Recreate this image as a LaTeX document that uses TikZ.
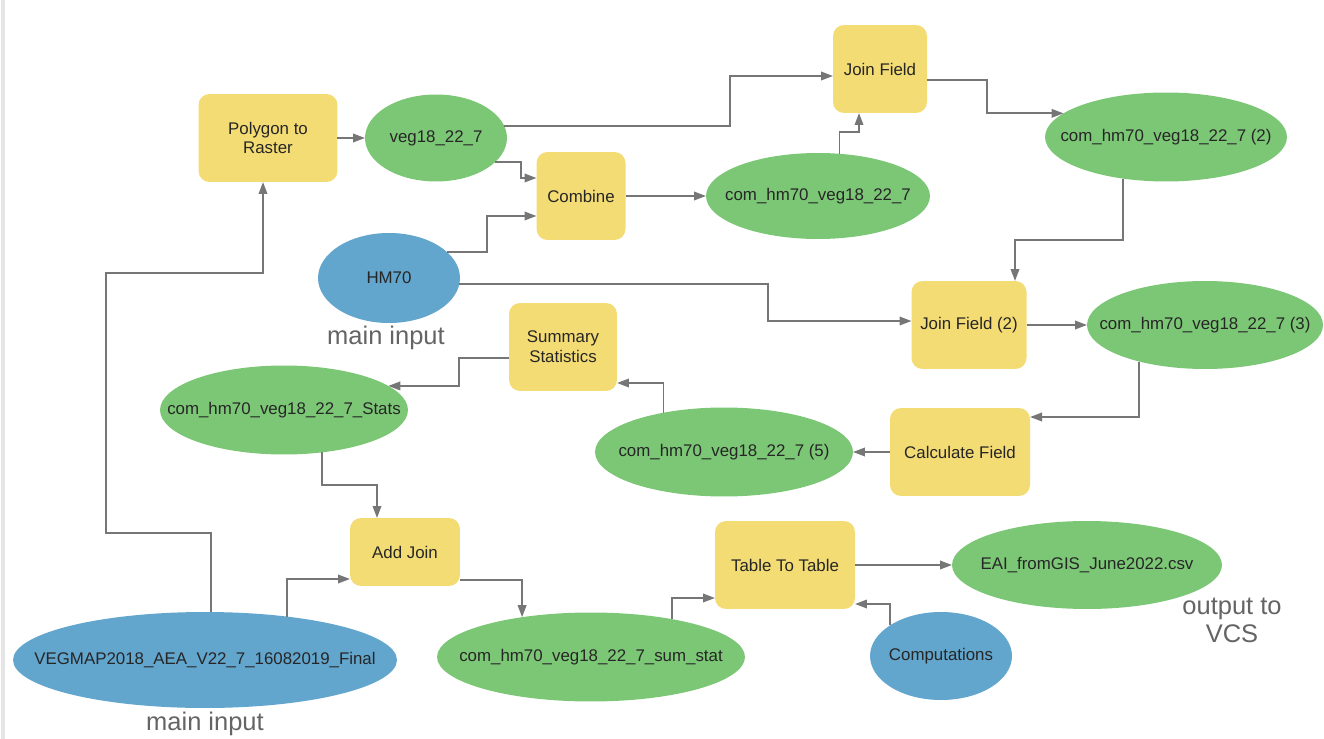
\documentclass[tikz,border=0pt]{standalone}
\usepackage{fontspec}
\setmainfont{Liberation Sans}
\usetikzlibrary{shapes.geometric,arrows.meta,calc}
\definecolor{toolyellow}{RGB}{244,220,116}
\definecolor{datagreen}{RGB}{124,199,118}
\definecolor{inputblue}{RGB}{98,165,205}
\definecolor{linkgray}{RGB}{118,118,118}
\definecolor{notegray}{RGB}{100,100,100}
\newcommand{\fld}[1]{\makebox[0pt]{#1}}

\begin{document}
\begin{tikzpicture}[x=0.02cm, y=-0.02cm,
  toolbox/.style={rectangle, rounded corners=0.22cm, fill=toolyellow, text=black!85, align=center, font=\fontsize{9.6}{11.3}\selectfont, minimum height=1.76cm, outer sep=0pt},
  dataell/.style={ellipse, fill=datagreen, inner sep=0pt, outer sep=0pt, text=black!85, font=\fontsize{9.6}{11.3}\selectfont, minimum height=1.78cm},
  srcell/.style={dataell, fill=inputblue},
  flow/.style={draw=linkgray, line width=1.1pt, -{Triangle[length=0.24cm,width=0.17cm]}},
  notelbl/.style={text=notegray, font=\fontsize{14.5}{16}\selectfont, inner sep=0pt, align=center}]
\useasboundingbox (0,0) rectangle (1324,739);
\fill[black!10] (1,0) rectangle (5,739);

\node[toolbox, minimum width=2.78cm] (poly) at (268,138) {Polygon to\\Raster};
\node[toolbox, minimum width=1.78cm] (comb) at (581,196) {Combine};
\node[toolbox, minimum width=1.88cm] (jf) at (880,69) {Join Field};
\node[toolbox, minimum width=2.3cm] (jf2) at (969,325) {Join Field (2)};
\node[toolbox, minimum width=2.16cm] (sumst) at (563,347) {Summary\\Statistics};
\node[toolbox, minimum width=2.8cm] (calcf) at (960,452) {Calculate Field};
\node[toolbox, minimum width=2.2cm, minimum height=1.36cm] (addj) at (405,552) {Add Join};
\node[toolbox, minimum width=2.8cm] (ttt) at (785,565) {Table To Table};

\node[dataell, minimum width=2.84cm, minimum height=1.74cm] (veg18) at (436,138) {\fld{veg18\_22\_7}};
\node[dataell, minimum width=4.48cm, minimum height=1.72cm] (chv) at (818,196) {\fld{com\_hm70\_veg18\_22\_7}};
\node[dataell, minimum width=4.84cm] (chv2) at (1166,137) {\fld{com\_hm70\_veg18\_22\_7 (2)}};
\node[dataell, minimum width=4.72cm, minimum height=1.76cm] (chv3) at (1205,325) {\fld{com\_hm70\_veg18\_22\_7 (3)}};
\node[dataell, minimum width=4.96cm] (stats) at (284,410) {\fld{com\_hm70\_veg18\_22\_7\_Stats}};
\node[dataell, minimum width=5.16cm] (chv5) at (724,452) {\fld{com\_hm70\_veg18\_22\_7 (5)}};
\node[dataell, minimum width=6.16cm] (sums) at (591,657) {\fld{com\_hm70\_veg18\_22\_7\_sum\_stat}};
\node[dataell, minimum width=5.4cm, minimum height=1.76cm] (eai) at (1087,565) {\fld{EAI\_fromGIS\_June2022.csv}};

\node[srcell, minimum width=2.84cm, minimum height=1.8cm] (hm70) at (389,278) {\fld{HM70}};
\node[srcell, minimum width=7.68cm, minimum height=1.92cm] (vegmap) at (205,660) {\fld{VEGMAP2018\_AEA\_V22\_7\_16082019\_Final}};
\node[srcell, minimum width=2.84cm, minimum height=1.76cm] (comp) at (941,656) {\fld{Computations}};

\node[notelbl, anchor=base] (lblhm) at (386,345) {main input};
\node[notelbl, anchor=base] (lblveg) at (205,730) {main input};
\node[notelbl] (lblout) at (1232,620) {output to\\VCS};

\draw[flow] (vegmap.83) -- ++(0,-79) -- ++(-105,0) -- ++(0,-260) -| ($(poly.south)+(-5,0)$);
\draw[flow] (vegmap.28) |- ($(addj.west)+(0,27)$);
\draw[flow] (poly) -- (veg18);
\draw[flow] (veg18.10) -- ++(226,0) |- ($(jf.west)+(0,7)$);
\draw[flow] (veg18.-22) -- ++(26,0) |- ($(comb.west)+(0,-18)$);
\draw[flow] (hm70.24) -- ++(40,0) |- ($(comb.west)+(0,20)$);
\draw[flow] (comb) -- (chv);
\draw[flow] (chv.63) -- ++(0,-22) -| ($(jf.south)+(-21,0)$);
\draw[flow] ($(jf.east)+(0,11)$) -- ++(60,0) |- (chv2.167);
\draw[flow] (chv2.-136) -- ++(0,61) -| ($(jf2.north)+(46,0)$);
\draw[flow] (hm70.-5) -- ++(309,0) |- ($(jf2.west)+(0,-4)$);
\draw[flow] (jf2) -- (chv3);
\draw[flow] (chv3.-151) |- ($(calcf.east)+(0,-35)$);
\draw[flow] (calcf) -- (chv5);
\draw[flow] (chv5.147) |- ($(sumst.east)+(0,36)$);
\draw[flow] ($(sumst.west)+(0,11)$) -- ++(-50,0) |- (stats.13);
\draw[flow] (stats.-48) -- ++(0,33) -| ($(addj.north)+(-28,0)$);
\draw[flow] ($(addj.east)+(0,28)$) -| (sums.150);
\draw[flow] (sums.25) |- ($(ttt.west)+(0,33)$);
\draw[flow] (comp.149) |- ($(ttt.east)+(0,39)$);
\draw[flow] (ttt) -- (eai);
\end{tikzpicture}
\end{document}
